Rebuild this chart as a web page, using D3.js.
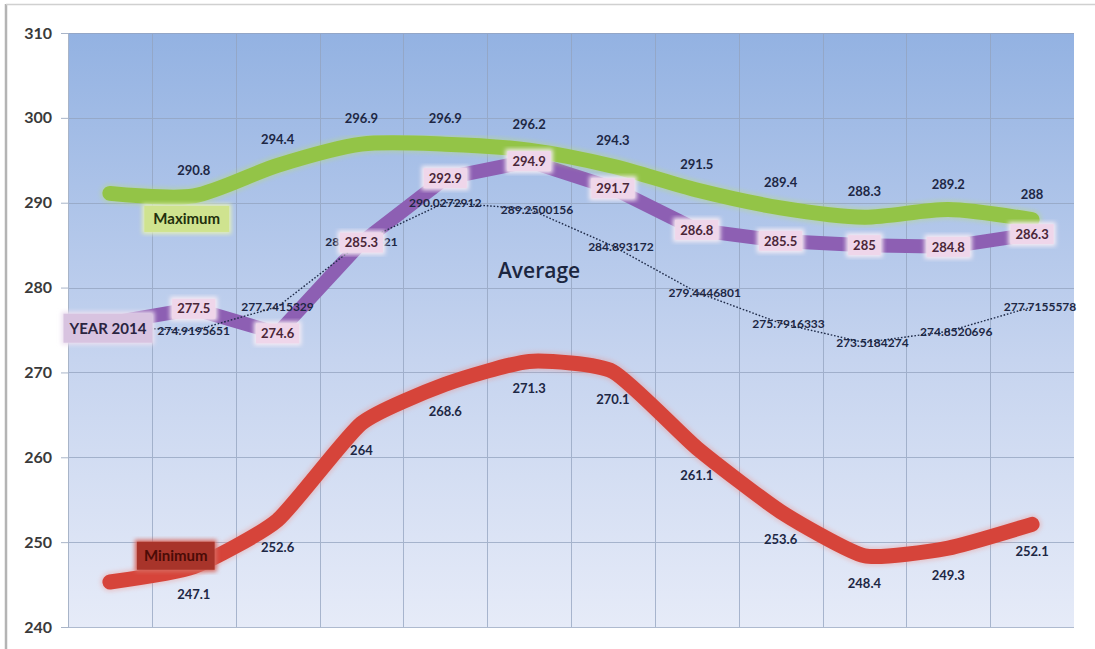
<!DOCTYPE html>
<html>
<head>
<meta charset="utf-8">
<script src="https://cdn.jsdelivr.net/npm/d3@7"></script>
<style>
  body { margin: 0; background: #ffffff; }
  svg { display: block; font-family: Lato, "Open Sans", "Liberation Sans", sans-serif; }
</style>
</head>
<body>
<svg id="chart" width="1095" height="649"></svg>
<script>
// Monthly readings (12 points per series)
const months = ["Jan", "Feb", "Mar", "Apr", "May", "Jun", "Jul", "Aug", "Sep", "Oct", "Nov", "Dec"];
const yTicks = [240, 250, 260, 270, 280, 290, 300, 310];

const maximum  = [291.1, 290.8, 294.4, 296.9, 296.9, 296.2, 294.3, 291.5, 289.4, 288.3, 289.2, 288];
const minimum  = [245.3, 247.1, 252.6, 264, 268.6, 271.3, 270.1, 261.1, 253.6, 248.4, 249.3, 252.1];
const year2014 = [275.8, 277.5, 274.6, 285.3, 292.9, 294.9, 291.7, 286.8, 285.5, 285, 284.8, 286.3];
const average  = [275.4, 274.9195651, 277.7415329, 285.3781521, 290.0272912, 289.2500156,
                  284.893172, 279.4446801, 275.7916333, 273.5184274, 274.8520696, 277.7155578];

const nameMax = "Maximum";
const nameMin = "Minimum";
const nameYear = "YEAR  2014";
const nameAvg = "Average";

const svg = d3.select("#chart");
const plot = { left: 68, right: 1074, top: 33, bottom: 627 };

// frame edges
svg.append("line").attr("x1", 6).attr("x2", 6).attr("y1", 4).attr("y2", 649)
  .attr("stroke", "#b4b4b4").attr("stroke-width", 2.5);
svg.append("line").attr("x1", 6).attr("x2", 1095).attr("y1", 4.5).attr("y2", 4.5)
  .attr("stroke", "#d0d0d0").attr("stroke-width", 1.5);

const xb = d3.scaleBand().domain(months).range([plot.left, plot.right]);
const xc = m => xb(m) + xb.bandwidth() / 2;
const y = d3.scaleLinear().domain([240, 310]).range([plot.bottom, plot.top]);

// plot background gradient
const defs = svg.append("defs");
const grad = defs.append("linearGradient").attr("id", "bg").attr("x1", 0).attr("y1", 0).attr("x2", 0).attr("y2", 1);
grad.append("stop").attr("offset", "0%").attr("stop-color", "#93b2e2");
grad.append("stop").attr("offset", "55%").attr("stop-color", "#c6d4ef");
grad.append("stop").attr("offset", "100%").attr("stop-color", "#e6ebf8");

const glow = defs.append("filter").attr("id", "soft").attr("x", "-10%").attr("y", "-10%").attr("width", "120%").attr("height", "120%");
glow.append("feGaussianBlur").attr("stdDeviation", 2.2);

svg.append("rect")
  .attr("x", plot.left).attr("y", plot.top)
  .attr("width", plot.right - plot.left).attr("height", plot.bottom - plot.top)
  .attr("fill", "url(#bg)");

// grid
const grid = svg.append("g").attr("stroke", "#93a3bf").attr("stroke-width", 1).attr("opacity", 0.75);
grid.selectAll("line.h").data(yTicks).join("line")
  .attr("x1", plot.left).attr("x2", plot.right)
  .attr("y1", d => Math.round(y(d)) + 0.5).attr("y2", d => Math.round(y(d)) + 0.5);
grid.selectAll("line.v").data(months.slice(1)).join("line")
  .attr("x1", d => Math.round(xb(d)) + 0.5).attr("x2", d => Math.round(xb(d)) + 0.5)
  .attr("y1", plot.top).attr("y2", plot.bottom);

// y axis
const yAxis = svg.append("g").attr("transform", `translate(${plot.left},0)`)
  .call(d3.axisLeft(y).tickValues(yTicks).tickSize(7).tickPadding(9).tickFormat(d3.format("d")));
yAxis.select(".domain").attr("stroke", "#a8b4c8");
yAxis.selectAll(".tick line").attr("stroke", "#a8b4c8");
yAxis.selectAll(".tick text")
  .attr("fill", "#3a3a3a").attr("font-size", 16).attr("font-weight", 700)
  .attr("font-family", "Lato, 'Open Sans', sans-serif");

const pts = arr => arr.map((v, i) => [xc(months[i]), y(v)]);
const smoothMax = d3.line().curve(d3.curveCardinal.tension(0.2));
const smoothMin = d3.line().curve(d3.curveCardinal.tension(0.45));
const straight = d3.line();

// YEAR 2014 (purple)
svg.append("path").attr("d", straight(pts(year2014)))
  .attr("fill", "none").attr("stroke", "#8d5fb3").attr("stroke-width", 14)
  .attr("stroke-linejoin", "miter").attr("stroke-linecap", "butt");

// Maximum (green)
svg.append("path").attr("d", smoothMax(pts(maximum)))
  .attr("fill", "none").attr("stroke", "#b8dc7a").attr("stroke-width", 19).attr("opacity", 0.45)
  .attr("filter", "url(#soft)").attr("stroke-linecap", "round");
svg.append("path").attr("d", smoothMax(pts(maximum)))
  .attr("fill", "none").attr("stroke", "#93c447").attr("stroke-width", 15)
  .attr("stroke-linecap", "round").attr("stroke-linejoin", "round");

// Minimum (red)
svg.append("path").attr("d", smoothMin(pts(minimum)))
  .attr("fill", "none").attr("stroke", "#f08a80").attr("stroke-width", 19).attr("opacity", 0.35)
  .attr("filter", "url(#soft)").attr("stroke-linecap", "round");
svg.append("path").attr("d", smoothMin(pts(minimum)))
  .attr("fill", "none").attr("stroke", "#d6443a").attr("stroke-width", 15)
  .attr("stroke-linecap", "round").attr("stroke-linejoin", "round");

// Average (dotted)
svg.append("path").attr("d", straight(pts(average)))
  .attr("fill", "none").attr("stroke", "#1e2a48").attr("stroke-width", 1.4)
  .attr("stroke-dasharray", "1.6,1.8");

const textColor = "#1d2744";

// Maximum value labels (above line)
svg.append("g").selectAll("text").data(maximum.slice(1)).join("text")
  .attr("x", (d, i) => xc(months[i + 1]))
  .attr("y", d => y(d) - 21)
  .attr("text-anchor", "middle").attr("font-size", 13).attr("font-weight", 700)
  .attr("fill", textColor).text(d => d);

// Minimum value labels (below line)
svg.append("g").selectAll("text").data(minimum.slice(1)).join("text")
  .attr("x", (d, i) => xc(months[i + 1]))
  .attr("y", d => y(d) + 32)
  .attr("text-anchor", "middle").attr("font-size", 13).attr("font-weight", 700)
  .attr("fill", textColor).text(d => d);

// Average value labels
svg.append("g").selectAll("text").data(average.slice(1)).join("text")
  .attr("x", (d, i) => xc(months[i + 1]) + (i >= 4 ? 8 : 0))
  .attr("y", d => y(d) + 4.5)
  .attr("text-anchor", "middle").attr("font-size", 12).attr("font-weight", 700)
  .attr("fill", textColor).text(d => d);

// boxed text helper
function boxed(g, x, yy, txt, opt) {
  const t = g.append("text").attr("x", x).attr("y", yy + opt.size * 0.36)
    .attr("text-anchor", "middle").attr("font-size", opt.size).attr("font-weight", opt.weight || 700)
    .attr("fill", opt.color).text(txt);
  const w = t.node().getComputedTextLength();
  const r = g.insert("rect", () => t.node())
    .attr("x", x - w / 2 - opt.padX).attr("y", yy - opt.h / 2)
    .attr("width", w + 2 * opt.padX).attr("height", opt.h)
    .attr("fill", opt.fill);
  if (opt.halo) {
    g.insert("rect", () => r.node())
      .attr("x", x - w / 2 - opt.padX - 2).attr("y", yy - opt.h / 2 - 2)
      .attr("width", w + 2 * opt.padX + 4).attr("height", opt.h + 4)
      .attr("fill", opt.halo).attr("filter", "url(#soft)");
  }
  return t;
}

// YEAR 2014 value labels on pink boxes
const yl = svg.append("g");
year2014.slice(1).forEach((v, i) => {
  boxed(yl, xc(months[i + 1]), y(v), String(v),
    { size: 13, color: "#4a2638", fill: "#efd6ea", padX: 5, h: 20, halo: "#f6ecf4" });
});

// series name labels
const nl = svg.append("g");
boxed(nl, xc(months[1]) - 7, y(maximum[1]) + 23, nameMax,
  { size: 15, color: "#23300c", fill: "#cfe38f", padX: 9, h: 26, halo: "#e4f0b8" });
boxed(nl, xc(months[1]) - 18, y(minimum[1]) - 11, nameMin,
  { size: 15, color: "#4a0b06", fill: "#a8342a", padX: 7, h: 28, halo: "#d86a60" });
boxed(nl, xc(months[0]) - 2, y(year2014[0]) + 5, nameYear,
  { size: 15, color: "#2a2440", fill: "#d8c3e0", padX: 6, h: 29, halo: "#ece0f0" });

svg.append("text")
  .attr("x", xc(months[5]) + 10).attr("y", y(282) + 7)
  .attr("text-anchor", "middle").attr("font-size", 21).attr("font-weight", 600)
  .attr("font-family", "'Open Sans', Lato, sans-serif")
  .attr("fill", "#1b2640").text(nameAvg);
</script>
</body>
</html>
